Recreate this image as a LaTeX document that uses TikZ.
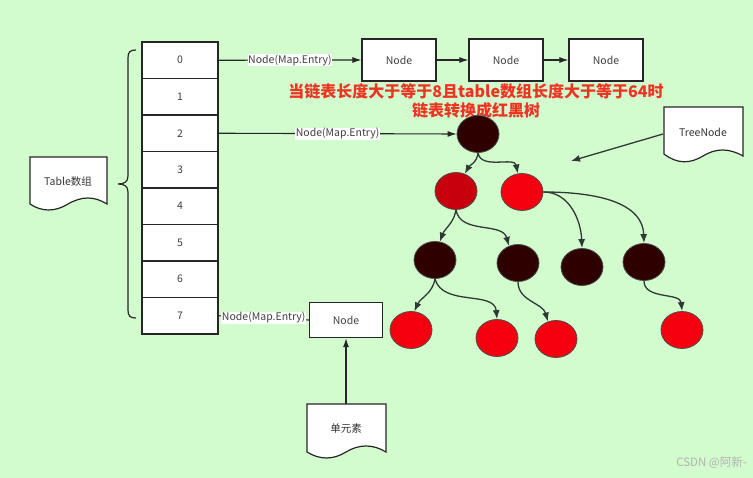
\documentclass[tikz,border=0pt]{standalone}
\usepackage{fontspec}
\setmainfont{Noto Sans CJK SC}
\usetikzlibrary{arrows.meta,shapes.geometric}
\definecolor{bg}{HTML}{D2FCCD}
\definecolor{edge}{HTML}{2F3A33}
\definecolor{darknode}{HTML}{2E0000}
\definecolor{rednode}{HTML}{F5000F}
\definecolor{redtwo}{HTML}{C8000E}
\definecolor{redtext}{HTML}{EE3322}
\tikzset{
  cell/.style={draw=black!85, line width=1.2pt, fill=white, minimum width=76, minimum height=36.5, font=\fontsize{10.5}{12}\selectfont, text=black!75, inner sep=0pt},
  nodebox/.style={draw=black!85, line width=1.2pt, fill=white, minimum width=74, minimum height=42, font=\fontsize{10.5}{12}\selectfont, text=black!75, inner sep=0pt},
  lbl/.style={fill=white, inner sep=0.5pt, font=\fontsize{10.5}{12}\selectfont, text=black!75},
  conn/.style={draw=black!85, line width=1.1pt},
  arr/.style={conn, -{Latex[length=9pt,width=6pt]}},
  tarr/.style={draw=edge, line width=1.3pt, -{Latex[length=9pt,width=7pt]}},
  blk/.style={ellipse, draw=black!70, line width=0.8pt, fill=darknode, minimum width=42, minimum height=37, inner sep=0pt},
  redn/.style={ellipse, draw=black!70, line width=0.8pt, fill=rednode, minimum width=42, minimum height=37, inner sep=0pt},
  doctxt/.style={font=\fontsize{10.5}{12}\selectfont, text=black!80, inner sep=0pt},
  docshape/.style={draw=black!85, line width=1.2pt, fill=white},
}
\begin{document}
\begin{tikzpicture}[x=1pt,y=-1pt]
\fill[bg] (0,0) rectangle (753,478);
\useasboundingbox (0,0) rectangle (753,478);

% array cells
\foreach \i in {0,...,7} {
  \node[cell] (c\i) at (180,{60.25+36.5*\i}) {\i};
}

% brace
\draw[conn, line width=1.2pt] (136,50) .. controls (130,50) and (128,52) .. (128,58) -- (128,176)
  .. controls (128,182) and (124,184) .. (118,184)
  .. controls (124,184) and (128,186) .. (128,192) -- (128,310)
  .. controls (128,316) and (130,318) .. (136,318);

% Table doc
\path[docshape] (30,157) -- (107,157) -- (107,204)
  .. controls (94,196) and (82,196) .. (68,204)
  .. controls (55,212) and (42,212) .. (30,204) -- cycle;
\node[doctxt] (tbl) at (68,182) {Table数组};

% linked list nodes
\node[nodebox] (n1) at (399,60) {Node};
\node[nodebox] (n2) at (506,60) {Node};
\node[nodebox] (n3) at (606,60) {Node};
\draw[arr] (c0.east) -- node[lbl]{Node(Map.Entry)} (n1.west);
\draw[arr] (n1.east) -- (n2.west);
\draw[arr] (n2.east) -- (n3.west);

% red text
\node[font=\bfseries\fontsize{16}{19}\selectfont, text=redtext, align=center, inner sep=0pt] (warn) at (476,101)
  {当链表长度大于等于8且table数组长度大于等于64时\\链表转换成红黑树};

% tree
\node[blk] (root) at (478,134) {};
\node[redn, fill=redtwo] (L) at (456,191) {};
\node[redn] (R) at (522,192) {};
\node[blk] (A) at (435,260) {};
\node[blk] (B) at (518,263) {};
\node[blk] (C) at (582,267) {};
\node[blk] (D) at (644,262) {};
\node[redn] (a) at (411,330) {};
\node[redn] (b) at (497,338) {};
\node[redn] (c) at (556,339) {};
\node[redn] (d) at (682,330) {};

\draw[arr] (c2.east) -- node[lbl, pos=0.5]{Node(Map.Entry)} (root.west);

\draw[tarr] (root.south) to[out=-95,in=60] (L.63);
\draw[tarr] (root.south) to[out=-80,in=100] (R.103);
\draw[tarr] (L.south) to[out=-100,in=70] (A.75);
\draw[tarr] (L.south) to[out=-80,in=105] (B.118);
\draw[tarr] (R.east) to[out=0,in=92] (C.north);
\draw[tarr] (R.east) to[out=0,in=92] (D.north);
\draw[tarr] (A.south) to[out=-100,in=65] (a.80);
\draw[tarr] (A.south) to[out=-75,in=95] (b.north);
\draw[tarr] (B.south) to[out=-90,in=105] (c.115);
\draw[tarr] (D.south) to[out=-90,in=95] (d.north);

% TreeNode doc
\path[docshape] (664,107) -- (743,107) -- (743,156)
  .. controls (729,148) and (716,148) .. (703,156)
  .. controls (690,164) and (677,164) .. (664,154) -- cycle;
\node[doctxt] (tn) at (703,132) {TreeNode};
\coordinate (tnl) at (663,134);
\coordinate (tnt) at (571,161);
\draw[tarr] (tnl) -- (tnt);

% row 7
\node[nodebox, minimum width=73, minimum height=35] (n7) at (346,320) {Node};
\draw[conn] (c7.east) -- node[lbl]{Node(Map.Entry)} (n7.west);

% single element doc
\path[docshape] (307,404) -- (386,404) -- (386,452)
  .. controls (373,444) and (359,444) .. (346,452)
  .. controls (333,460) and (320,460) .. (307,452) -- cycle;
\node[doctxt] (se) at (346,429) {单元素};
\coordinate (setop) at (346,404);
\draw[arr, line width=1.3pt] (setop) -- (n7.south);

% watermark
\node[font=\fontsize{11.5}{13}\selectfont, text=black!30, anchor=east, inner sep=0pt] (wm) at (747,463) {CSDN @阿新-};
\end{tikzpicture}
\end{document}
